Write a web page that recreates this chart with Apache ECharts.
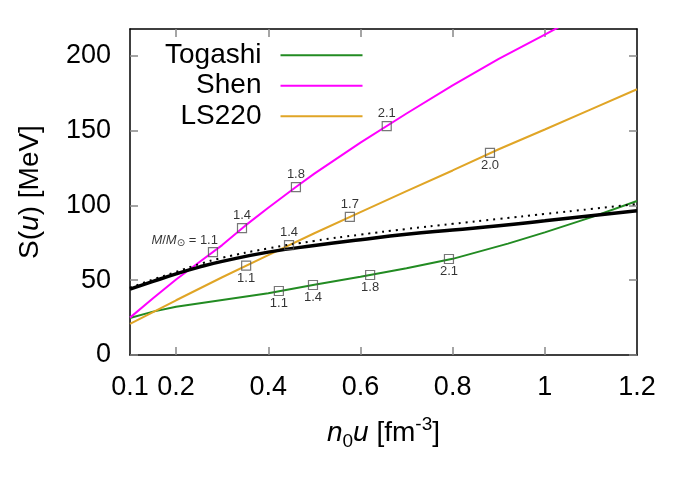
<!DOCTYPE html>
<html>
<head>
<meta charset="utf-8">
<script src="https://cdn.jsdelivr.net/npm/echarts@6/dist/echarts.min.js"></script>
<style>
html,body{margin:0;padding:0;background:#fff;}
#chart{width:692px;height:483px;}
</style>
</head>
<body>
<div id="chart"></div>
<script>
// ---- data ----
const xTickLabels = [0.1, 0.2, 0.4, 0.6, 0.8, 1, 1.2];
const xTicks = [0.2, 0.4, 0.6, 0.8, 1.0];
const yTicks = [0, 50, 100, 150, 200];

const togashiX = [0.1, 0.15, 0.2, 0.3, 0.4, 0.5, 0.6, 0.7, 0.8, 0.92, 1.0, 1.1, 1.2];
const togashiY = [24.8, 29, 32.3, 36.8, 41.3, 47, 52.3, 58, 64.3, 74.5, 82, 92, 103];

const shenX = [0.1, 0.15, 0.2, 0.25, 0.3, 0.35, 0.4, 0.46, 0.5, 0.6, 0.7, 0.8, 0.9, 1.0, 1.05];
const shenY = [25, 38, 50.5, 62, 73.5, 86.5, 98.5, 112.3, 121.3, 142, 161.5, 180.3, 198, 214.3, 222.5];

const ls220X = [0.1, 0.2, 0.3, 0.4, 0.5, 0.6, 0.7, 0.8, 0.9, 1.0, 1.1, 1.2];
const ls220Y = [20.8, 36.6, 52, 66.8, 81.4, 95.6, 109.6, 123.4, 137.6, 150.8, 164.2, 177.7];

const boundX = [0.1, 0.15, 0.2, 0.25, 0.3, 0.4, 0.5, 0.6, 0.7, 0.8, 0.9, 1.0, 1.1, 1.2];
const boundY = [44, 49.2, 54.3, 58.8, 62.6, 68.8, 73.2, 77.1, 80.7, 83.6, 86.4, 89.7, 93.1, 96.4];
const boundDotY = [45, 50.5, 55.6, 60.7, 65.0, 71.3, 76.3, 80.5, 84.3, 87.7, 91.0, 94.3, 97.6, 101];

const togashiMX = [0.423, 0.497, 0.621, 0.792];
const togashiMY = [42.8, 46.8, 53.5, 64.2];
const togashiM = ['1.1', '1.4', '1.8', '2.1'];

const shenMX = [0.28, 0.343, 0.46, 0.657];
const shenMY = [68.8, 84.9, 112.3, 153];
const shenM = ['1.1', '1.4', '1.8', '2.1'];

const ls220MX = [0.352, 0.445, 0.577, 0.881];
const ls220MY = [59.7, 73.5, 92.4, 135.2];
const ls220M = ['1.1', '1.4', '1.7', '2.0'];

// ---- label placement (style) ----
const togashiPos = ['bottom', 'bottom', 'bottom', 'bottom'];
const shenPos = ['first', 'top', 'top', 'top'];
const ls220Pos = ['bottom', 'top', 'top', 'bottom'];

const FONT = 'Liberation Sans';
const zip = (xs, ys) => xs.map((x, i) => [x, ys[i]]);

function markerData(xs, ys, names, pos) {
  return xs.map((x, i) => {
    const item = { value: [x, ys[i], names[i]] };
    if (pos[i] === 'first') {
      item.label = {
        position: 'top', align: 'right', offset: [5, 6],
        formatter: '{i|M}/{i|M}{s|\u2299} = ' + names[i]
      };
    } else {
      item.label = { position: pos[i], distance: 1 };
    }
    return item;
  });
}

function markerSeries(name, xs, ys, names, pos) {
  return {
    name: name, type: 'scatter', symbol: 'rect', symbolSize: 9, z: 5,
    itemStyle: { color: 'rgba(0,0,0,0)', borderColor: '#555', borderWidth: 1.2 },
    label: {
      show: true, color: '#000', fontFamily: FONT, fontSize: 13,
      formatter: p => p.value[2],
      rich: {
        i: { fontStyle: 'italic', fontSize: 13, fontFamily: FONT, color: '#000', lineHeight: 16 },
        s: { fontSize: 10, fontFamily: 'DejaVu Sans', color: '#000', verticalAlign: 'bottom', lineHeight: 11 }
      }
    },
    emphasis: { disabled: true },
    data: markerData(xs, ys, names, pos)
  };
}

const axisLineStyle = { color: '#000', width: 1.5 };
const tickStyle = { color: '#888', width: 1.5 };

const chart = echarts.init(document.getElementById('chart'), null, { renderer: 'canvas' });
chart.setOption({
  animation: false,
  backgroundColor: '#fff',
  grid: { left: 130, right: 55, top: 29, bottom: 128 },
  legend: {
    orient: 'vertical', align: 'right', left: 165, top: 40, padding: 0,
    itemWidth: 82, itemHeight: 2, itemGap: 0, icon: 'rect',
    textStyle: { fontSize: 28, fontFamily: FONT, color: '#000', lineHeight: 30.5, padding: [0, 14, 0, 0] },
    data: ['Togashi', 'Shen', 'LS220']
  },
  xAxis: [{
    type: 'value', min: 0.1, max: 1.2, position: 'bottom',
    name: '{i|n}{sub|0}{i|u} [fm{sup|-3}]', nameLocation: 'middle', nameGap: 60,
    nameTextStyle: {
      fontSize: 28, fontFamily: FONT, color: '#000', lineHeight: 36,
      rich: {
        i: { fontStyle: 'italic', fontSize: 28, fontFamily: FONT, color: '#000', lineHeight: 36 },
        sub: { fontSize: 19, fontFamily: FONT, color: '#000', lineHeight: 19, verticalAlign: 'bottom' },
        sup: { fontSize: 19, fontFamily: FONT, color: '#000', lineHeight: 19, verticalAlign: 'top' }
      }
    },
    axisLine: { show: true, onZero: false, lineStyle: axisLineStyle },
    axisTick: { show: true, inside: true, length: 8, customValues: xTicks, lineStyle: tickStyle },
    axisLabel: { customValues: xTickLabels, margin: 19, fontSize: 27, fontFamily: FONT, color: '#000',
      formatter: v => String(+(+v).toFixed(2)) },
    splitLine: { show: false }
  }, {
    type: 'value', min: 0.1, max: 1.2, position: 'top',
    axisLine: { show: true, onZero: false, lineStyle: axisLineStyle },
    axisTick: { show: true, inside: true, length: 8, customValues: xTicks, lineStyle: tickStyle },
    axisLabel: { show: false },
    splitLine: { show: false }
  }],
  yAxis: [{
    type: 'value', min: 0, max: 218, position: 'left',
    name: 'S({i|u}) [MeV]', nameLocation: 'middle', nameGap: 86,
    nameTextStyle: {
      fontSize: 28, fontFamily: FONT, color: '#000',
      rich: { i: { fontStyle: 'italic', fontSize: 28, fontFamily: FONT, color: '#000' } }
    },
    axisLine: { show: true, onZero: false, lineStyle: axisLineStyle },
    axisTick: { show: true, inside: true, length: 8, customValues: yTicks, lineStyle: tickStyle },
    axisLabel: { customValues: yTicks, margin: 19, fontSize: 27, fontFamily: FONT, color: '#000' },
    splitLine: { show: false }
  }, {
    type: 'value', min: 0, max: 218, position: 'right',
    axisLine: { show: true, onZero: false, lineStyle: axisLineStyle },
    axisTick: { show: true, inside: true, length: 8, customValues: yTicks, lineStyle: tickStyle },
    axisLabel: { show: false },
    splitLine: { show: false }
  }],
  series: [
    { name: 'Togashi', type: 'line', showSymbol: false, symbol: 'none', z: 3,
      lineStyle: { color: '#228b22', width: 2 }, itemStyle: { color: '#228b22' },
      data: zip(togashiX, togashiY) },
    { name: 'Shen', type: 'line', showSymbol: false, symbol: 'none', z: 3,
      lineStyle: { color: '#ff00ff', width: 2 }, itemStyle: { color: '#ff00ff' },
      data: zip(shenX, shenY) },
    { name: 'LS220', type: 'line', showSymbol: false, symbol: 'none', z: 3,
      lineStyle: { color: '#e0a526', width: 2 }, itemStyle: { color: '#e0a526' },
      data: zip(ls220X, ls220Y) },
    { name: 'bound', type: 'line', showSymbol: false, symbol: 'none', smooth: true, z: 4,
      lineStyle: { color: '#000', width: 3.5 }, data: zip(boundX, boundY) },
    { name: 'boundDot', type: 'line', showSymbol: false, symbol: 'none', smooth: true, z: 4,
      lineStyle: { color: '#000', width: 2, type: [2, 5] }, data: zip(boundX, boundDotY) },
    markerSeries('TogashiM', togashiMX, togashiMY, togashiM, togashiPos),
    markerSeries('ShenM', shenMX, shenMY, shenM, shenPos),
    markerSeries('LS220M', ls220MX, ls220MY, ls220M, ls220Pos)
  ]
});
</script>
</body>
</html>
